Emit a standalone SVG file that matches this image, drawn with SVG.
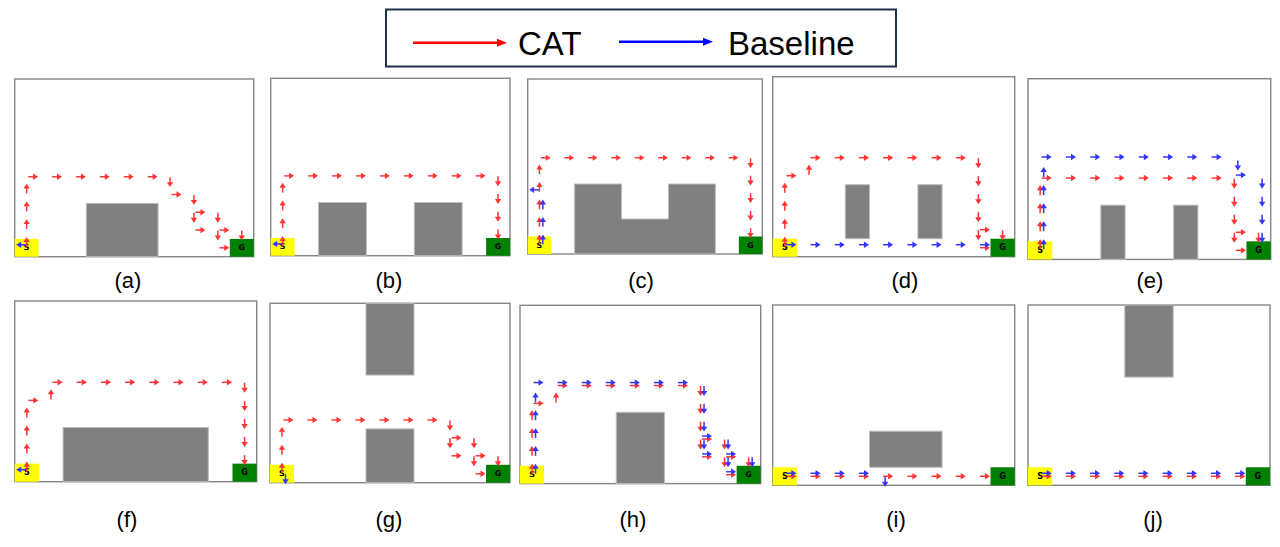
<svg xmlns="http://www.w3.org/2000/svg" xmlns:xlink="http://www.w3.org/1999/xlink" width="1280" height="547" viewBox="0 0 1280 547">
<style>
.frame{fill:#fff;stroke:#858585;stroke-width:1.4}
.obs{fill:#808080;stroke:#bdbdbd;stroke-width:1}
.start{fill:#ffff00}
.goal{fill:#008000}
.sg{font-family:"DejaVu Sans",sans-serif;font-size:8px;font-weight:bold;fill:#000;text-anchor:middle;dominant-baseline:central}
.rd{stroke:#ff3535;fill:#ff3535;stroke-width:1.5}
.bl{stroke:#3535ff;fill:#3535ff;stroke-width:1.5}
.lbl{font-family:"Liberation Sans",Arial,sans-serif;font-size:22px;fill:#000;text-anchor:middle}
.leg{font-family:"Liberation Sans",Arial,sans-serif;font-size:33px;fill:#000}
</style>
<defs>
<g id="R"><path d="M1.5 0H7.5"/><path d="M11.5 0L6.5 -3.2L6.5 3.2Z" stroke="none"/></g>
<g id="L"><path d="M-0.5 0H-6.5"/><path d="M-10.5 0L-5.5 -3.2L-5.5 3.2Z" stroke="none"/></g>
<g id="U"><path d="M0 -1V-7"/><path d="M0 -11L-3.2 -6L3.2 -6Z" stroke="none"/></g>
<g id="D"><path d="M0 0.5V6.5"/><path d="M0 10.5L-3.2 5.5L3.2 5.5Z" stroke="none"/></g>
<g id="BR" transform="translate(0,-3)"><use href="#R"/></g>
<g id="BL" transform="translate(0,-3)"><use href="#L"/></g>
<g id="BU" transform="translate(3.5,0)"><use href="#U"/></g>
<g id="BD" transform="translate(3.5,0)"><use href="#D"/></g>
</defs>
<rect width="1280" height="547" fill="#fff"/>

<g id="legend">
<rect x="386" y="9.5" width="510" height="57" fill="#fff" stroke="#1f3247" stroke-width="2"/>
<line x1="413" y1="42.7" x2="499" y2="42.7" stroke="#ff0000" stroke-width="2.5"/>
<path d="M507 42.7L497 38.7L497 46.7Z" fill="#ff0000"/>
<text class="leg" x="518" y="55">CAT</text>
<line x1="619" y1="41.7" x2="705" y2="41.7" stroke="#0000ff" stroke-width="2.5"/>
<path d="M713 41.7L703 37.7L703 45.7Z" fill="#0000ff"/>
<text class="leg" x="728" y="55">Baseline</text>
</g>

<g id="panel-a" transform="translate(14.7,79) scale(0.9958,0.9872)">
<rect class="frame" width="240" height="180"/>
<rect class="obs" x="72" y="126" width="72" height="54"/>
<rect class="start" x="0" y="162" width="24" height="18"/><rect class="goal" x="216" y="162" width="24" height="18"/>
<text class="sg" x="12" y="171">S</text><text class="sg" x="228" y="171">G</text>
<g class="rd">
<use href="#U" x="12" y="171"/><use href="#U" x="12" y="153"/><use href="#U" x="12" y="135"/><use href="#U" x="12" y="117"/>
<use href="#R" x="12" y="99"/><use href="#R" x="36" y="99"/><use href="#R" x="60" y="99"/><use href="#R" x="84" y="99"/><use href="#R" x="108" y="99"/><use href="#R" x="132" y="99"/>
<use href="#D" x="156" y="99"/><use href="#R" x="156" y="117"/><use href="#D" x="180" y="117"/>
<use href="#D" x="180" y="135"/><use href="#R" x="180" y="135"/><use href="#D" x="204" y="135"/>
<use href="#R" x="180" y="153"/><use href="#D" x="204" y="153"/><use href="#R" x="204" y="153"/><use href="#D" x="228" y="153"/>
<use href="#R" x="204" y="171"/>
</g>
<g class="bl"><use href="#BL" x="12" y="171"/></g>
</g>

<g id="panel-b" transform="translate(270.7,78.3) scale(0.9971,0.9856)">
<rect class="frame" width="240" height="180"/>
<rect class="obs" x="48" y="126" width="48" height="54"/><rect class="obs" x="144" y="126" width="48" height="54"/>
<rect class="start" x="0" y="162" width="24" height="18"/><rect class="goal" x="216" y="162" width="24" height="18"/>
<text class="sg" x="12" y="171">S</text><text class="sg" x="228" y="171">G</text>
<g class="rd">
<use href="#U" x="12" y="171"/><use href="#U" x="12" y="153"/><use href="#U" x="12" y="135"/><use href="#U" x="12" y="117"/>
<use href="#R" x="12" y="99"/><use href="#R" x="36" y="99"/><use href="#R" x="60" y="99"/><use href="#R" x="84" y="99"/><use href="#R" x="108" y="99"/><use href="#R" x="132" y="99"/><use href="#R" x="156" y="99"/><use href="#R" x="180" y="99"/><use href="#R" x="204" y="99"/>
<use href="#D" x="228" y="99"/><use href="#D" x="228" y="117"/><use href="#D" x="228" y="135"/><use href="#D" x="228" y="153"/>
</g>
<g class="bl"><use href="#BL" x="12" y="171"/></g>
</g>

<g id="panel-c" transform="translate(527.7,79) scale(0.9775,0.9722)">
<rect class="frame" width="240" height="180"/>
<polygon class="obs" points="48,108 96,108 96,144 144,144 144,108 192,108 192,180 48,180"/>
<rect class="start" x="0" y="162" width="24" height="18"/><rect class="goal" x="216" y="162" width="24" height="18"/>
<text class="sg" x="12" y="171">S</text><text class="sg" x="228" y="171">G</text>
<g class="rd">
<use href="#U" x="12" y="171"/><use href="#U" x="12" y="153"/><use href="#U" x="12" y="135"/><use href="#U" x="12" y="117"/><use href="#U" x="12" y="99"/>
<use href="#R" x="12" y="81"/><use href="#R" x="36" y="81"/><use href="#R" x="60" y="81"/><use href="#R" x="84" y="81"/><use href="#R" x="108" y="81"/><use href="#R" x="132" y="81"/><use href="#R" x="156" y="81"/><use href="#R" x="180" y="81"/><use href="#R" x="204" y="81"/>
<use href="#D" x="228" y="81"/><use href="#D" x="228" y="99"/><use href="#D" x="228" y="117"/><use href="#D" x="228" y="135"/><use href="#D" x="228" y="153"/>
</g>
<g class="bl"><use href="#BU" x="12" y="171"/><use href="#BU" x="12" y="153"/><use href="#BU" x="12" y="135"/><use href="#BL" x="12" y="117"/></g>
</g>

<g id="panel-d" transform="translate(772.7,76.7) scale(1.0083,1)">
<rect class="frame" width="240" height="180"/>
<rect class="obs" x="72" y="108" width="24" height="54"/><rect class="obs" x="144" y="108" width="24" height="54"/>
<rect class="start" x="0" y="162" width="24" height="18"/><rect class="goal" x="216" y="162" width="24" height="18"/>
<text class="sg" x="12" y="171">S</text><text class="sg" x="228" y="171">G</text>
<g class="rd">
<use href="#U" x="12" y="171"/><use href="#U" x="12" y="153"/><use href="#U" x="12" y="135"/><use href="#U" x="12" y="117"/>
<use href="#R" x="12" y="99"/><use href="#U" x="36" y="99"/>
<use href="#R" x="36" y="81"/><use href="#R" x="60" y="81"/><use href="#R" x="84" y="81"/><use href="#R" x="108" y="81"/><use href="#R" x="132" y="81"/><use href="#R" x="156" y="81"/><use href="#R" x="180" y="81"/>
<use href="#D" x="204" y="81"/><use href="#D" x="204" y="99"/><use href="#D" x="204" y="117"/><use href="#D" x="204" y="135"/><use href="#D" x="204" y="153"/>
<use href="#R" x="204" y="153"/><use href="#D" x="228" y="153"/><use href="#R" x="204" y="171"/>
</g>
<g class="bl">
<use href="#BR" x="12" y="171"/><use href="#BR" x="36" y="171"/><use href="#BR" x="60" y="171"/><use href="#BR" x="84" y="171"/><use href="#BR" x="108" y="171"/><use href="#BR" x="132" y="171"/><use href="#BR" x="156" y="171"/><use href="#BR" x="180" y="171"/><use href="#BR" x="204" y="171"/>
</g>
</g>

<g id="panel-e" transform="translate(1028,78.7) scale(1.0113,1.0039)">
<rect class="frame" width="240" height="180"/>
<rect class="obs" x="72" y="126" width="24" height="54"/><rect class="obs" x="144" y="126" width="24" height="54"/>
<rect class="start" x="0" y="162" width="24" height="18"/><rect class="goal" x="216" y="162" width="24" height="18"/>
<text class="sg" x="12" y="171">S</text><text class="sg" x="228" y="171">G</text>
<g class="rd">
<use href="#U" x="12" y="171"/><use href="#U" x="12" y="153"/><use href="#U" x="12" y="135"/><use href="#U" x="12" y="117"/>
<use href="#R" x="12" y="99"/><use href="#R" x="36" y="99"/><use href="#R" x="60" y="99"/><use href="#R" x="84" y="99"/><use href="#R" x="108" y="99"/><use href="#R" x="132" y="99"/><use href="#R" x="156" y="99"/><use href="#R" x="180" y="99"/>
<use href="#D" x="204" y="99"/><use href="#D" x="204" y="117"/><use href="#D" x="204" y="135"/><use href="#D" x="204" y="153"/>
<use href="#R" x="204" y="153"/><use href="#D" x="228" y="153"/><use href="#R" x="204" y="171"/>
</g>
<g class="bl">
<use href="#BU" x="12" y="171"/><use href="#BU" x="12" y="153"/><use href="#BU" x="12" y="135"/><use href="#BU" x="12" y="117"/><use href="#BU" x="12" y="99"/>
<use href="#BR" x="12" y="81"/><use href="#BR" x="36" y="81"/><use href="#BR" x="60" y="81"/><use href="#BR" x="84" y="81"/><use href="#BR" x="108" y="81"/><use href="#BR" x="132" y="81"/><use href="#BR" x="156" y="81"/><use href="#BR" x="180" y="81"/>
<use href="#BD" x="204" y="81"/><use href="#BR" x="204" y="99"/>
<use href="#BD" x="228" y="99"/><use href="#BD" x="228" y="117"/><use href="#BD" x="228" y="135"/><use href="#BD" x="228" y="153"/>
</g>
</g>

<g id="panel-f" transform="translate(14.7,301) scale(1.0083,1.0039)">
<rect class="frame" width="240" height="180"/>
<rect class="obs" x="48" y="126" width="144" height="54"/>
<rect class="start" x="0" y="162" width="24" height="18"/><rect class="goal" x="216" y="162" width="24" height="18"/>
<text class="sg" x="12" y="171">S</text><text class="sg" x="228" y="171">G</text>
<g class="rd">
<use href="#U" x="12" y="171"/><use href="#U" x="12" y="153"/><use href="#U" x="12" y="135"/><use href="#U" x="12" y="117"/>
<use href="#R" x="12" y="99"/><use href="#U" x="36" y="99"/>
<use href="#R" x="36" y="81"/><use href="#R" x="60" y="81"/><use href="#R" x="84" y="81"/><use href="#R" x="108" y="81"/><use href="#R" x="132" y="81"/><use href="#R" x="156" y="81"/><use href="#R" x="180" y="81"/><use href="#R" x="204" y="81"/>
<use href="#D" x="228" y="81"/><use href="#D" x="228" y="99"/><use href="#D" x="228" y="117"/><use href="#D" x="228" y="135"/><use href="#D" x="228" y="153"/>
</g>
<g class="bl"><use href="#BL" x="12" y="171"/></g>
</g>

<g id="panel-g" transform="translate(270,303.3) scale(1,0.9967)">
<rect class="frame" width="240" height="180"/>
<rect class="obs" x="96" y="0" width="48" height="72"/><rect class="obs" x="96" y="126" width="48" height="54"/>
<rect class="start" x="0" y="162" width="24" height="18"/><rect class="goal" x="216" y="162" width="24" height="18"/>
<text class="sg" x="12" y="171">S</text><text class="sg" x="228" y="171">G</text>
<g class="rd">
<use href="#U" x="12" y="171"/><use href="#U" x="12" y="153"/><use href="#U" x="12" y="135"/>
<use href="#R" x="12" y="117"/><use href="#R" x="36" y="117"/><use href="#R" x="60" y="117"/><use href="#R" x="84" y="117"/><use href="#R" x="108" y="117"/><use href="#R" x="132" y="117"/><use href="#R" x="156" y="117"/>
<use href="#D" x="180" y="117"/><use href="#D" x="180" y="135"/><use href="#R" x="180" y="135"/><use href="#D" x="204" y="135"/>
<use href="#R" x="180" y="153"/><use href="#D" x="204" y="153"/><use href="#R" x="204" y="153"/><use href="#D" x="228" y="153"/>
<use href="#R" x="204" y="171"/>
</g>
<g class="bl"><use href="#BD" x="12" y="171"/></g>
</g>

<g id="panel-h" transform="translate(520,305.3) scale(1.0029,0.9906)">
<rect class="frame" width="240" height="180"/>
<rect class="obs" x="96" y="108" width="48" height="72"/>
<rect class="start" x="0" y="162" width="24" height="18"/><rect class="goal" x="216" y="162" width="24" height="18"/>
<text class="sg" x="12" y="171">S</text><text class="sg" x="228" y="171">G</text>
<g class="rd">
<use href="#U" x="12" y="171"/><use href="#U" x="12" y="153"/><use href="#U" x="12" y="135"/><use href="#U" x="12" y="117"/>
<use href="#R" x="12" y="99"/><use href="#U" x="36" y="99"/>
<use href="#R" x="36" y="81"/><use href="#R" x="60" y="81"/><use href="#R" x="84" y="81"/><use href="#R" x="108" y="81"/><use href="#R" x="132" y="81"/><use href="#R" x="156" y="81"/>
<use href="#D" x="180" y="81"/><use href="#D" x="180" y="99"/><use href="#D" x="180" y="117"/><use href="#D" x="180" y="135"/>
<use href="#R" x="180" y="135"/><use href="#D" x="204" y="135"/>
<use href="#R" x="180" y="153"/><use href="#D" x="204" y="153"/><use href="#R" x="204" y="153"/><use href="#D" x="228" y="153"/>
<use href="#R" x="204" y="171"/>
</g>
<g class="bl">
<use href="#BU" x="12" y="171"/><use href="#BU" x="12" y="153"/><use href="#BU" x="12" y="135"/><use href="#BU" x="12" y="117"/><use href="#BU" x="12" y="99"/>
<use href="#BR" x="12" y="81"/><use href="#BR" x="36" y="81"/><use href="#BR" x="60" y="81"/><use href="#BR" x="84" y="81"/><use href="#BR" x="108" y="81"/><use href="#BR" x="132" y="81"/><use href="#BR" x="156" y="81"/>
<use href="#BD" x="180" y="81"/><use href="#BD" x="180" y="99"/><use href="#BD" x="180" y="117"/><use href="#BD" x="180" y="135"/>
<use href="#BR" x="180" y="135"/><use href="#BD" x="204" y="135"/>
<use href="#BR" x="180" y="153"/><use href="#BD" x="204" y="153"/><use href="#BR" x="204" y="153"/><use href="#BD" x="228" y="153"/>
<use href="#BR" x="204" y="171"/>
</g>
</g>

<g id="panel-i" transform="translate(772.7,305) scale(1.0083,1.0017)">
<rect class="frame" width="240" height="180"/>
<rect class="obs" x="96" y="126" width="72" height="36"/>
<rect class="start" x="0" y="162" width="24" height="18"/><rect class="goal" x="216" y="162" width="24" height="18"/>
<text class="sg" x="12" y="171">S</text><text class="sg" x="228" y="171">G</text>
<g class="rd">
<use href="#R" x="12" y="171"/><use href="#R" x="36" y="171"/><use href="#R" x="60" y="171"/><use href="#R" x="84" y="171"/><use href="#R" x="108" y="171"/><use href="#R" x="132" y="171"/><use href="#R" x="156" y="171"/><use href="#R" x="180" y="171"/><use href="#R" x="204" y="171"/>
</g>
<g class="bl">
<use href="#BR" x="12" y="171"/><use href="#BR" x="36" y="171"/><use href="#BR" x="60" y="171"/><use href="#BR" x="84" y="171"/><use href="#BD" x="108" y="171"/>
</g>
</g>

<g id="panel-j" transform="translate(1028,305) scale(1.0083,1.0017)">
<rect class="frame" width="240" height="180"/>
<rect class="obs" x="96" y="0" width="48" height="72"/>
<rect class="start" x="0" y="162" width="24" height="18"/><rect class="goal" x="216" y="162" width="24" height="18"/>
<text class="sg" x="12" y="171">S</text><text class="sg" x="228" y="171">G</text>
<g class="rd">
<use href="#R" x="12" y="171"/><use href="#R" x="36" y="171"/><use href="#R" x="60" y="171"/><use href="#R" x="84" y="171"/><use href="#R" x="108" y="171"/><use href="#R" x="132" y="171"/><use href="#R" x="156" y="171"/><use href="#R" x="180" y="171"/><use href="#R" x="204" y="171"/>
</g>
<g class="bl">
<use href="#BR" x="12" y="171"/><use href="#BR" x="36" y="171"/><use href="#BR" x="60" y="171"/><use href="#BR" x="84" y="171"/><use href="#BR" x="108" y="171"/><use href="#BR" x="132" y="171"/><use href="#BR" x="156" y="171"/><use href="#BR" x="180" y="171"/><use href="#BR" x="204" y="171"/>
</g>
</g>

<g id="labels">
<text class="lbl" x="128" y="288">(a)</text>
<text class="lbl" x="389" y="288">(b)</text>
<text class="lbl" x="641" y="288">(c)</text>
<text class="lbl" x="905" y="288">(d)</text>
<text class="lbl" x="1150" y="288">(e)</text>
<text class="lbl" x="127" y="527">(f)</text>
<text class="lbl" x="389" y="527">(g)</text>
<text class="lbl" x="633" y="527">(h)</text>
<text class="lbl" x="896" y="527">(i)</text>
<text class="lbl" x="1153" y="527">(j)</text>
</g>
</svg>
